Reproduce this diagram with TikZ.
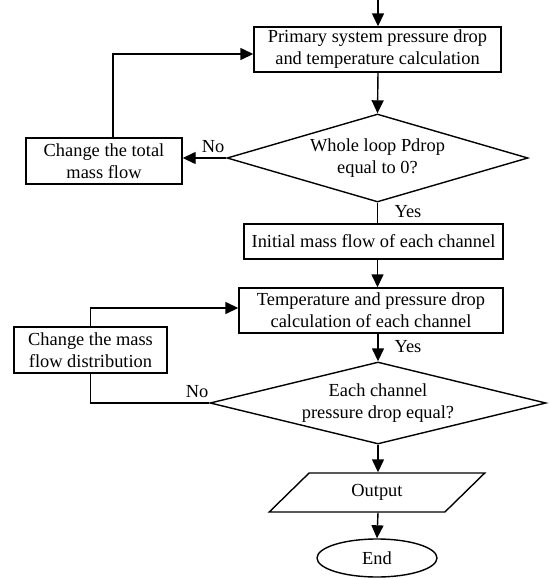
\documentclass[tikz,border=0pt]{standalone}
\usepackage{fontspec}
\setmainfont{Liberation Serif}
\usetikzlibrary{shapes.geometric,arrows.meta}
\tikzset{
  every node/.style={font=\fontsize{18.4}{22}\selectfont},
  box/.style={draw,line width=1.4pt,rectangle,align=center,inner sep=0pt},
  decision/.style={draw,line width=1.4pt,diamond,align=center,inner sep=0pt},
  io/.style={draw,line width=1.4pt,trapezium,trapezium left angle=47,trapezium right angle=133,trapezium stretches=true,inner sep=0pt},
  term/.style={draw,line width=1.4pt,ellipse,inner sep=0pt},
  arr/.style={line width=1.4pt,-{Triangle[length=13pt,width=12pt]}},
  ln/.style={line width=1.4pt}
}
\begin{document}
\begin{tikzpicture}[x=1pt,y=-1pt]
\useasboundingbox (0,0) rectangle (551,579);
\coordinate (start) at (378,0);
\node[box,minimum width=247pt,minimum height=45pt] (prim) at (377.5,49.5){Primary system pressure drop\\and temperature calculation};
\node[decision,shape aspect=3.4,minimum width=301pt,minimum height=88pt] (dia1) at (377.5,158){Whole loop Pdrop\\equal to 0?};
\node[box,minimum width=156pt,minimum height=46pt] (chg1) at (104,161){Change the total\\mass flow};
\node[box,minimum width=259pt,minimum height=35pt] (init) at (373.5,241.5){Initial mass flow of each channel};
\node[box,minimum width=264pt,minimum height=45pt] (calc) at (371,310.5){Temperature and pressure drop\\calculation of each channel};
\node[box,minimum width=153pt,minimum height=46pt] (dist) at (90.5,350){Change the mass\\flow distribution};
\node[decision,shape aspect=4.1,minimum width=336pt,minimum height=82pt] (dia2) at (378,403){Each channel\\pressure drop equal?};
\node[io,minimum width=216pt,minimum height=39pt] (out) at (377,492.5){Output};
\node[term,minimum width=120pt,minimum height=38pt] (end) at (377,558){End};
\node at (213,147){No};
\node at (408,212){Yes};
\node at (408,347){Yes};
\node at (197,392){No};
\draw[arr] (start) -- (start |- prim.north);
\draw[arr] (start |- prim.south) -- (dia1.north);
\draw[arr] (dia1.west) -- (dia1.west -| chg1.east);
\draw[arr] ([xshift=9pt]chg1.north) |- ([yshift=-4.5pt]prim.west);
\draw[ln] (dia1.south) -- (dia1.south |- init.north);
\draw[arr] (dia1.south |- init.south) -- (dia1.south |- calc.north);
\draw[arr] (dist.north) |- ([yshift=2.5pt]calc.west);
\draw[arr] (dia2.north |- calc.south) -- (dia2.north);
\draw[ln] (dia2.west) -| (dist.south);
\draw[arr] (dia2.south) -- (dia2.south |- out.north);
\draw[arr] (dia2.south |- out.south) -- (end.north);
\end{tikzpicture}
\end{document}
